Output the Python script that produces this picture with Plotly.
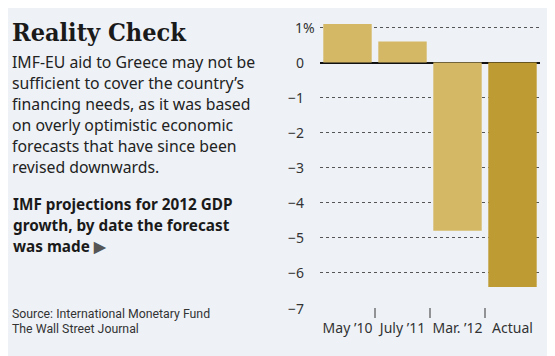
import plotly.graph_objects as go

# ---- data ----
categories = ["May ’10", "July ’11", "Mar. ’12", "Actual"]
values = [1.1, 0.6, -4.8, -6.4]
bar_colors = ["#d4b866", "#d4b866", "#d4b866", "#bf9b33"]
y_ticks = [1, 0, -1, -2, -3, -4, -5, -6, -7]
y_tick_labels = ["1%", "0", "−1", "−2", "−3", "−4", "−5", "−6", "−7"]

title = "Reality Check"
body_lines = [
    "IMF-EU aid to Greece may not be",
    "sufficient to cover the country’s",
    "financing needs, as it was based",
    "on overly optimistic economic",
    "forecasts that have since been",
    "revised downwards.",
]
sub_lines = [
    "IMF projections for 2012 GDP",
    "growth, by date the forecast",
    "was made <span style='color:#555555'>▶</span>",
]
source_lines = ["Source: International Monetary Fund", "The Wall Street Journal"]

OFF = 8  # page body margin
W, H = 555 - OFF, 356 - OFF
PLOT_L, PLOT_R, PLOT_T, PLOT_B = 320, 540, 10, 308  # in window pixels
ML = PLOT_L - OFF
MR = W - (PLOT_R - OFF)
MT = PLOT_T - OFF
MB = H - (PLOT_B - OFF)
PW, PH = W - ML - MR, H - MT - MB
BG = "#eef2f7"


def px_x(p):
    return (p - PLOT_L) / PW


def px_y(p):
    return 1 - (p - PLOT_T) / PH


fig = go.Figure()
fig.add_trace(go.Bar(x=categories, y=values, marker=dict(color=bar_colors, line=dict(width=0)),
                     width=0.88, hoverinfo="skip"))

ann = []
ann.append(dict(text=f"<b>{title}</b>", x=px_x(10), y=px_y(32), xanchor="left", yanchor="middle",
                font=dict(family="DejaVu Serif Condensed, DejaVu Serif", size=25, color="#1a1a1a")))
for i, line in enumerate(body_lines):
    ann.append(dict(text=line, x=px_x(10), y=px_y(62 + i * 21), xanchor="left", yanchor="middle",
                    font=dict(family="Noto Sans", size=15.8, color="#222222")))
for i, line in enumerate(sub_lines):
    ann.append(dict(text=f"<b>{line}</b>", x=px_x(11), y=px_y(204 + i * 21), xanchor="left", yanchor="middle",
                    font=dict(family="Noto Sans", size=15.3, color="#1a1a1a")))
for i, line in enumerate(source_lines):
    ann.append(dict(text=line, x=px_x(10), y=px_y(314 + i * 15), xanchor="left", yanchor="middle",
                    font=dict(family="Roboto", size=12.3, color="#333333")))
for v, lab in zip(y_ticks, y_tick_labels):
    xr = 317 if lab.endswith("%") else 306
    ann.append(dict(text=lab, xref="paper", yref="y", x=px_x(xr), y=v, xanchor="right", yanchor="middle",
                    font=dict(family="Noto Sans", size=14, color="#333333")))
for a in ann:
    a.setdefault("xref", "paper")
    a.setdefault("yref", "paper")
    a["showarrow"] = False

shapes = []
for i in range(len(categories) - 1):
    shapes.append(dict(type="line", xref="x", yref="paper", x0=i + 0.5, x1=i + 0.5,
                       y0=0, y1=-10 / PH, line=dict(color="#333333", width=1)))

fig.update_layout(
    width=W, height=H, autosize=False,
    margin=dict(l=ML, r=MR, t=MT, b=MB, pad=0),
    paper_bgcolor=BG, plot_bgcolor=BG,
    showlegend=False,
    bargap=0.12,
    annotations=ann,
    shapes=shapes,
    xaxis=dict(type="category", range=[-0.5, 3.5], showgrid=False, zeroline=False, showline=False,
               ticks="", tickfont=dict(family="Noto Sans", size=14, color="#333333"),
               ticklabelstandoff=10, fixedrange=True),
    yaxis=dict(range=[-7, 1.5], tickvals=y_ticks, showticklabels=False, showgrid=True,
               gridcolor="#555555", griddash="dot", gridwidth=1,
               zeroline=True, zerolinecolor="#111111", zerolinewidth=2, showline=False,
               ticks="", fixedrange=True),
)
fig.write_html("out.html")
